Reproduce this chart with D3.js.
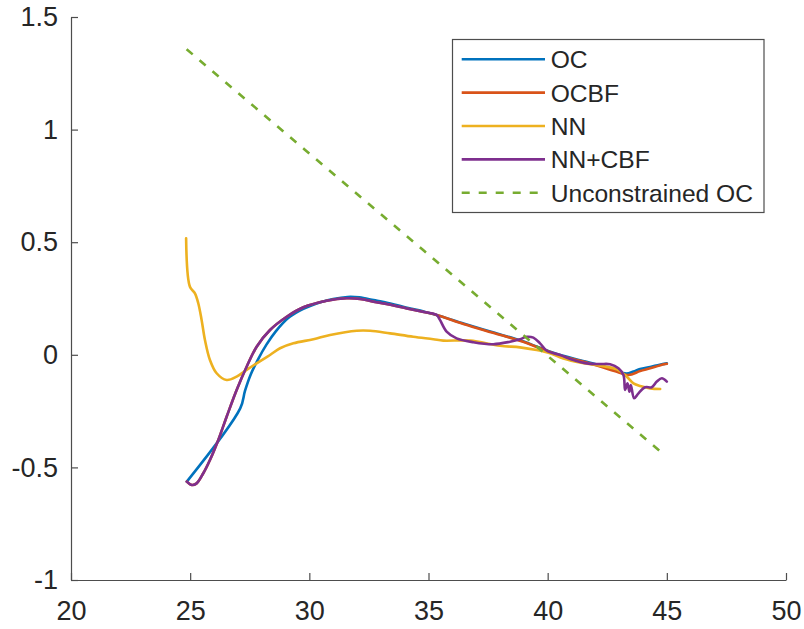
<!DOCTYPE html>
<html>
<head>
<meta charset="utf-8">
<script src="https://cdn.jsdelivr.net/npm/d3@7"></script>
<style>
  html, body { margin: 0; padding: 0; background: #fff; }
  text { font-family: "Liberation Sans", Arial, Helvetica, sans-serif; fill: #262626; }
</style>
</head>
<body>
<svg id="chart" width="804" height="629"></svg>
<script>
// ---- data ----
const xTicks = [20, 25, 30, 35, 40, 45, 50];
const yTicks = [-1, -0.5, 0, 0.5, 1, 1.5];
const yTickLabels = ["-1", "-0.5", "0", "0.5", "1", "1.5"];

const seriesNames = ["OC", "OCBF", "NN", "NN+CBF", "Unconstrained OC"];
const seriesColors = ["#0072BD", "#D95319", "#EDB120", "#7E2F8E", "#77AC30"];

const ocX = [24.86, 27.1, 27.3, 27.55, 27.86, 28.2, 28.6, 29.1, 29.6, 30.03, 30.5, 31.0, 31.6, 32.1, 32.7, 33.4, 34.1, 34.8, 35.34, 36.5, 37.7, 38.9, 39.68, 40.5, 41.4, 42.2, 42.8, 43.3, 43.6, 43.88, 44.3, 44.7, 45.0];
const ocY = [-0.563, -0.238, -0.16, -0.085, -0.018, 0.045, 0.105, 0.162, 0.196, 0.216, 0.234, 0.248, 0.257, 0.255, 0.243, 0.228, 0.209, 0.192, 0.177, 0.138, 0.1, 0.062, 0.031, 0.0, -0.025, -0.048, -0.068, -0.083, -0.074, -0.063, -0.054, -0.044, -0.038];

const ocbfX = [24.86, 25.07, 25.27, 25.55, 25.83, 26.18, 26.53, 26.95, 27.37, 27.79, 28.35, 29.05, 29.75, 30.73, 31.57, 32.13, 32.69, 33.4, 34.09, 34.8, 35.34, 36.5, 37.7, 38.9, 39.68, 40.5, 41.4, 42.2, 42.8, 43.39, 43.88, 44.3, 44.7, 45.0];
const ocbfY = [-0.563, -0.578, -0.571, -0.526, -0.467, -0.378, -0.275, -0.156, -0.053, 0.036, 0.11, 0.169, 0.211, 0.24, 0.251, 0.248, 0.236, 0.222, 0.206, 0.19, 0.177, 0.136, 0.098, 0.06, 0.029, -0.003, -0.028, -0.052, -0.072, -0.09, -0.072, -0.06, -0.047, -0.04];

const nnX = [24.83, 24.99, 25.2, 25.34, 25.48, 25.62, 25.83, 26.11, 26.53, 26.95, 27.37, 27.79, 28.35, 28.77, 29.33, 30.17, 30.87, 31.99, 32.55, 33.39, 34.36, 35.2, 35.62, 36.74, 38.0, 38.84, 39.54, 40.1, 40.66, 41.4, 42.2, 42.9, 43.32, 43.6, 43.88, 44.3, 44.72];
const nnY = [0.517, 0.302, 0.273, 0.229, 0.155, 0.066, -0.023, -0.082, -0.112, -0.097, -0.067, -0.038, -0.001, 0.029, 0.051, 0.069, 0.088, 0.107, 0.107, 0.095, 0.08, 0.069, 0.063, 0.063, 0.04, 0.033, 0.021, 0.007, -0.016, -0.035, -0.048, -0.065, -0.097, -0.127, -0.139, -0.149, -0.152];

const nncbfX = [24.86, 25.07, 25.27, 25.55, 25.83, 26.18, 26.53, 26.95, 27.37, 27.79, 28.35, 29.05, 29.75, 30.73, 31.57, 32.13, 32.69, 33.4, 34.09, 34.8, 35.34, 35.48, 35.76, 36.18, 36.88, 37.72, 38.42, 38.84, 39.12, 39.4, 39.68, 39.96, 40.52, 41.08, 41.64, 42.2, 42.62, 42.97, 43.18, 43.25, 43.35, 43.43, 43.49, 43.63, 43.81, 44.09, 44.37, 44.58, 44.79, 45.0];
const nncbfY = [-0.563, -0.578, -0.571, -0.526, -0.467, -0.378, -0.275, -0.156, -0.053, 0.036, 0.11, 0.169, 0.211, 0.24, 0.251, 0.248, 0.236, 0.222, 0.206, 0.19, 0.177, 0.155, 0.103, 0.073, 0.056, 0.047, 0.058, 0.069, 0.08, 0.076, 0.051, 0.018, -0.001, -0.023, -0.038, -0.041, -0.042, -0.06, -0.09, -0.156, -0.127, -0.164, -0.134, -0.193, -0.171, -0.144, -0.144, -0.119, -0.104, -0.119];

const uocX = [24.85, 29.8, 34.8, 39.8, 44.8];
const uocY = [1.357, 0.912, 0.463, 0.013, -0.436];

// ---- layout ----
const svg = d3.select("#chart");
const L = 71, R = 786, T = 17, B = 580;
const x = d3.scaleLinear().domain([20, 50]).range([L, R]);
const y = d3.scaleLinear().domain([-1, 1.5]).range([B, T]);

const axisColor = "#4d4d4d";

// axes
const xAxis = d3.axisBottom(x).tickValues(xTicks).tickSize(-7).tickPadding(20).tickSizeOuter(0);
const yAxis = d3.axisLeft(y).tickValues(yTicks).tickFormat((d, i) => yTickLabels[i]).tickSize(-7).tickPadding(13).tickSizeOuter(0);

const gx = svg.append("g").attr("transform", `translate(0,${B})`).call(xAxis);
const gy = svg.append("g").attr("transform", `translate(${L},0)`).call(yAxis);
[gx, gy].forEach(g => {
  g.select(".domain").attr("stroke", axisColor).attr("stroke-width", 1.2);
  g.selectAll(".tick line").attr("stroke", axisColor).attr("stroke-width", 1.2);
  g.selectAll(".tick text").attr("font-size", 27).attr("fill", "#262626")
    .attr("font-family", "'Liberation Sans', Arial, sans-serif");
});
gx.selectAll(".tick text").attr("dy", "0.75em");

// series
const series = [
  {xs: ocX, ys: ocY, dash: null},
  {xs: ocbfX, ys: ocbfY, dash: null},
  {xs: nnX, ys: nnY, dash: null},
  {xs: nncbfX, ys: nncbfY, dash: null},
  {xs: uocX, ys: uocY, dash: "8,9"}
];
const curved = d3.line().x(d => x(d[0])).y(d => y(d[1])).curve(d3.curveCatmullRom.alpha(0.5));
const straight = d3.line().x(d => x(d[0])).y(d => y(d[1]));

series.forEach((s, i) => {
  const pts = s.xs.map((v, k) => [v, s.ys[k]]);
  svg.append("path")
    .attr("d", (i === 4 ? straight : curved)(pts))
    .attr("fill", "none")
    .attr("stroke", seriesColors[i])
    .attr("stroke-width", 2.6)
    .attr("stroke-linejoin", "round")
    .attr("stroke-linecap", i === 4 ? "butt" : "round")
    .attr("stroke-dasharray", s.dash);
});

// legend
const lg = svg.append("g");
lg.append("rect").attr("x", 452.5).attr("y", 39.5).attr("width", 311.5).attr("height", 173)
  .attr("fill", "#fff").attr("stroke", axisColor).attr("stroke-width", 1.2);
seriesNames.forEach((name, i) => {
  const yy = 59.3 + i * 33.35;
  lg.append("line").attr("x1", 461.7).attr("x2", 545).attr("y1", yy).attr("y2", yy)
    .attr("stroke", seriesColors[i]).attr("stroke-width", 2.6)
    .attr("stroke-dasharray", i === 4 ? "8,9" : null);
  lg.append("text").attr("x", 550.7).attr("y", yy).attr("dy", "0.36em")
    .attr("font-size", 24.6).text(name);
});
</script>
</body>
</html>
